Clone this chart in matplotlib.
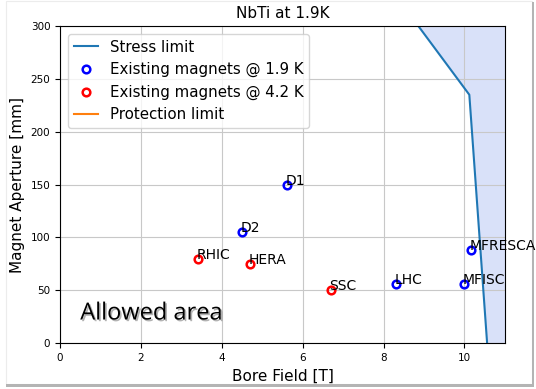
import matplotlib
matplotlib.use('Agg')
import matplotlib.pyplot as plt
import matplotlib.patheffects as pe
from matplotlib.patches import Rectangle

# stress limit curve (bore field [T], aperture [mm])
stress_b = [10.56, 10.12, 8.86]
stress_a = [0, 235, 300]

# existing magnets at 1.9 K
names_19 = ['D1', 'D2', 'LHC', 'MFISC', 'MFRESCA']
b_19 = [5.6, 4.5, 8.3, 10.0, 10.17]
a_19 = [150, 105, 56, 56, 88]

# existing magnets at 4.2 K
names_42 = ['RHIC', 'HERA', 'SSC']
b_42 = [3.4, 4.7, 6.7]
a_42 = [80, 75, 50]

fig = plt.figure(figsize=(5.36, 3.89), dpi=100)
ax = fig.add_axes([0.112, 0.118, 0.830, 0.815])

ax.plot(stress_b, stress_a, color='C0', label='Stress limit')
ax.fill_betweenx(stress_a, stress_b, 11, color='royalblue', alpha=0.2, lw=0)
ax.plot(b_19, a_19, 'o', mfc='none', mec='blue', mew=1.8, ms=5.5,
        label='Existing magnets @ 1.9 K')
ax.plot(b_42, a_42, 'o', mfc='none', mec='red', mew=1.8, ms=5.5,
        label='Existing magnets @ 4.2 K')
ax.plot([], [], color='C1', label='Protection limit')

for n, b, a in zip(names_19, b_19, a_19):
    ax.annotate(n, (b, a), xytext=(-1, 0), textcoords='offset points', fontsize=10)
for n, b, a in zip(names_42, b_42, a_42):
    ax.annotate(n, (b, a), xytext=(-1, 0), textcoords='offset points', fontsize=10)

ax.text(0.5, 28, 'Allowed area', fontsize=17, family='Open Sans', va='center',
        path_effects=[pe.withSimplePatchShadow(offset=(1.2, -1.2), alpha=0.3)])

ax.set_xlim(0, 11)
ax.set_ylim(0, 300)
ax.tick_params(labelsize=7.5)
ax.set_xlabel('Bore Field [T]', fontsize=11)
ax.set_ylabel('Magnet Aperture [mm]', fontsize=11)
ax.set_title('NbTi at 1.9K', fontsize=11)
ax.grid(color='#c8c8c8')
ax.legend(loc='upper left', fontsize=10.8, handlelength=1.6)

# screenshot frame with shadow
fig.patches.append(Rectangle((0.012, 0.012), 0.98, 0.985, transform=fig.transFigure,
                             fill=False, ec='#ececec', lw=0.8, zorder=-1))
fig.patches.append(Rectangle((0.992, 0.005), 0.005, 0.99, transform=fig.transFigure,
                             fc='#b4b4b4', ec='none', zorder=-1))
fig.patches.append(Rectangle((0.012, 0.005), 0.985, 0.007, transform=fig.transFigure,
                             fc='#b4b4b4', ec='none', zorder=-1))

fig.savefig('out.png', dpi=100)
